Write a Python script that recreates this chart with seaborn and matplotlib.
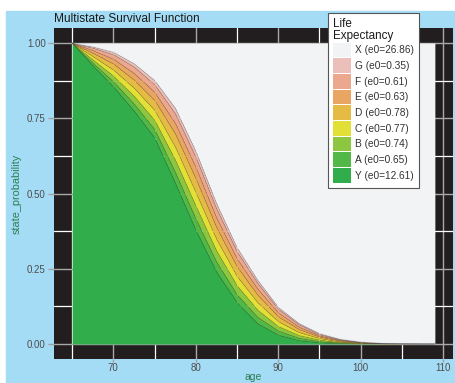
import numpy as np
import pandas as pd
import matplotlib
matplotlib.use("Agg")
import matplotlib.pyplot as plt
import seaborn as sns
from matplotlib.patches import Patch, Rectangle
from matplotlib.ticker import MultipleLocator

# state probabilities by age
ages = [65, 67.5, 70, 72.5, 75, 77.5, 80, 82.5, 85, 87.5, 90, 92.5, 95, 97.5, 100, 102.5, 105, 107.5, 109]
Y = [1.000, 0.925, 0.855, 0.775, 0.685, 0.535, 0.378, 0.240, 0.138, 0.068, 0.030, 0.012, 0.005, 0.002, 0.0005, 0.0001, 0, 0, 0]
A = [0, .009, .017, .023, .028, .036, .038, .033, .026, .021, .014, .008, .004, .002, .001, .0003, .0001, 0, 0]
B = [0, .011, .019, .026, .031, .041, .043, .037, .030, .024, .015, .009, .005, .002, .001, .0003, .0001, 0, 0]
C = [0, .011, .020, .027, .033, .043, .045, .039, .031, .025, .016, .010, .005, .002, .001, .0003, .0001, 0, 0]
D = [0, .011, .020, .027, .033, .044, .046, .039, .032, .025, .016, .010, .005, .003, .001, .0003, .0001, 0, 0]
E = [0, .009, .016, .022, .027, .035, .037, .032, .026, .020, .013, .008, .004, .002, .001, .0003, .0001, 0, 0]
F = [0, .008, .015, .021, .025, .032, .034, .030, .024, .019, .012, .008, .004, .002, .0005, .0002, 0, 0, 0]
G = [0, .004, .008, .011, .014, .018, .019, .017, .013, .010, .006, .004, .003, .001, .0005, .0002, 0, 0, 0]

legend_states = ["X", "G", "F", "E", "D", "C", "B", "A", "Y"]
life_exp = [26.86, 0.35, 0.61, 0.63, 0.78, 0.77, 0.74, 0.65, 12.61]
state_colors = ["#f1f3f5", "#ebbfba", "#eba88e", "#e9a562", "#e6bb45",
                "#e2e036", "#8dc73f", "#52b848", "#31ad4c"]

df = pd.DataFrame({"age": ages, "Y": Y, "A": A, "B": B, "C": C,
                   "D": D, "E": E, "F": F, "G": G})
alive = ["Y", "A", "B", "C", "D", "E", "F", "G"]
df["X"] = (1 - df[alive].sum(axis=1)).clip(lower=0)
colors = dict(zip(legend_states, state_colors))

sns.set_theme(style="dark", rc={"axes.facecolor": "#221e1f"})
plt.rcParams["font.family"] = ["Liberation Sans", "DejaVu Sans"]

fig = plt.figure(figsize=(4.56, 3.83), dpi=100, facecolor="white")
fig.patches.append(Rectangle((6 / 456, 0), 450 / 456, 372 / 383,
                             transform=fig.transFigure, color="#a4dcf5", zorder=-10))
ax = fig.add_axes([54 / 456, 1 - 359 / 383, 399 / 456, 331 / 383])

bottom = np.zeros(len(df))
for s in alive + ["X"]:
    top = bottom + df[s].to_numpy()
    ax.fill_between(df["age"], bottom, top, color=colors[s], lw=0, zorder=2)
    if s != "X":
        sns.lineplot(x=df["age"], y=top, color="#000000", alpha=0.12, lw=0.6, ax=ax, zorder=3)
    bottom = top

ax.set_xlim(62.8, 111.2)
ax.set_ylim(-0.05, 1.05)
ax.xaxis.set_major_locator(MultipleLocator(10))
ax.xaxis.set_minor_locator(MultipleLocator(5))
ax.yaxis.set_major_locator(MultipleLocator(0.25))
ax.yaxis.set_minor_locator(MultipleLocator(0.125))
ax.set_yticks([0, 0.25, 0.5, 0.75, 1.0])
ax.set_yticklabels(["0.00", "0.25", "0.50", "0.75", "1.00"])
ax.grid(which="major", color="#a8a8a8", lw=1.0)
ax.grid(which="minor", color="#ffffff", lw=0.9)
ax.set_axisbelow(True)
for sp in ax.spines.values():
    sp.set_visible(False)
ax.tick_params(axis="y", which="major", length=4, width=1, color="#a0a0a0",
               labelsize=7, labelcolor="#4d4d4d", pad=2, left=True)
ax.tick_params(axis="x", which="major", length=2, width=1, color="#a0a0a0",
               labelsize=7, labelcolor="#4d4d4d", pad=1, bottom=True)
ax.tick_params(which="minor", length=0)

ax.set_xlabel("age", fontsize=7.5, color="#2b7d52", labelpad=-0.5)
ax.set_ylabel("state_probability", fontsize=7.8, color="#2b7d52", labelpad=4)
fig.text(54 / 456, 1 - 19 / 383, "Multistate Survival Function", fontsize=8.6,
         color="#1a1a1a", va="center", ha="left")

handles = [Patch(facecolor=colors[s], edgecolor="none", label=f"{s} (e0={v:.2f})")
           for s, v in zip(legend_states, life_exp)]
leg = fig.legend(handles=handles, title="Life\nExpectancy", loc="upper left",
                 bbox_to_anchor=(328 / 456, 1 - 13 / 383), borderaxespad=0,
                 fontsize=7.3, title_fontsize=8.4,
                 frameon=True, fancybox=False, edgecolor="#555555", framealpha=1,
                 facecolor="white", handlelength=1.75, handleheight=1.85,
                 labelspacing=0.1, handletextpad=0.4, borderpad=0.5, alignment="left")
leg.get_frame().set_linewidth(0.8)
for t in leg.get_texts():
    t.set_color("#333333")
leg.get_title().set_color("#1a1a1a")
leg.get_title().set_linespacing(0.95)

fig.savefig("out.png", dpi=100)
